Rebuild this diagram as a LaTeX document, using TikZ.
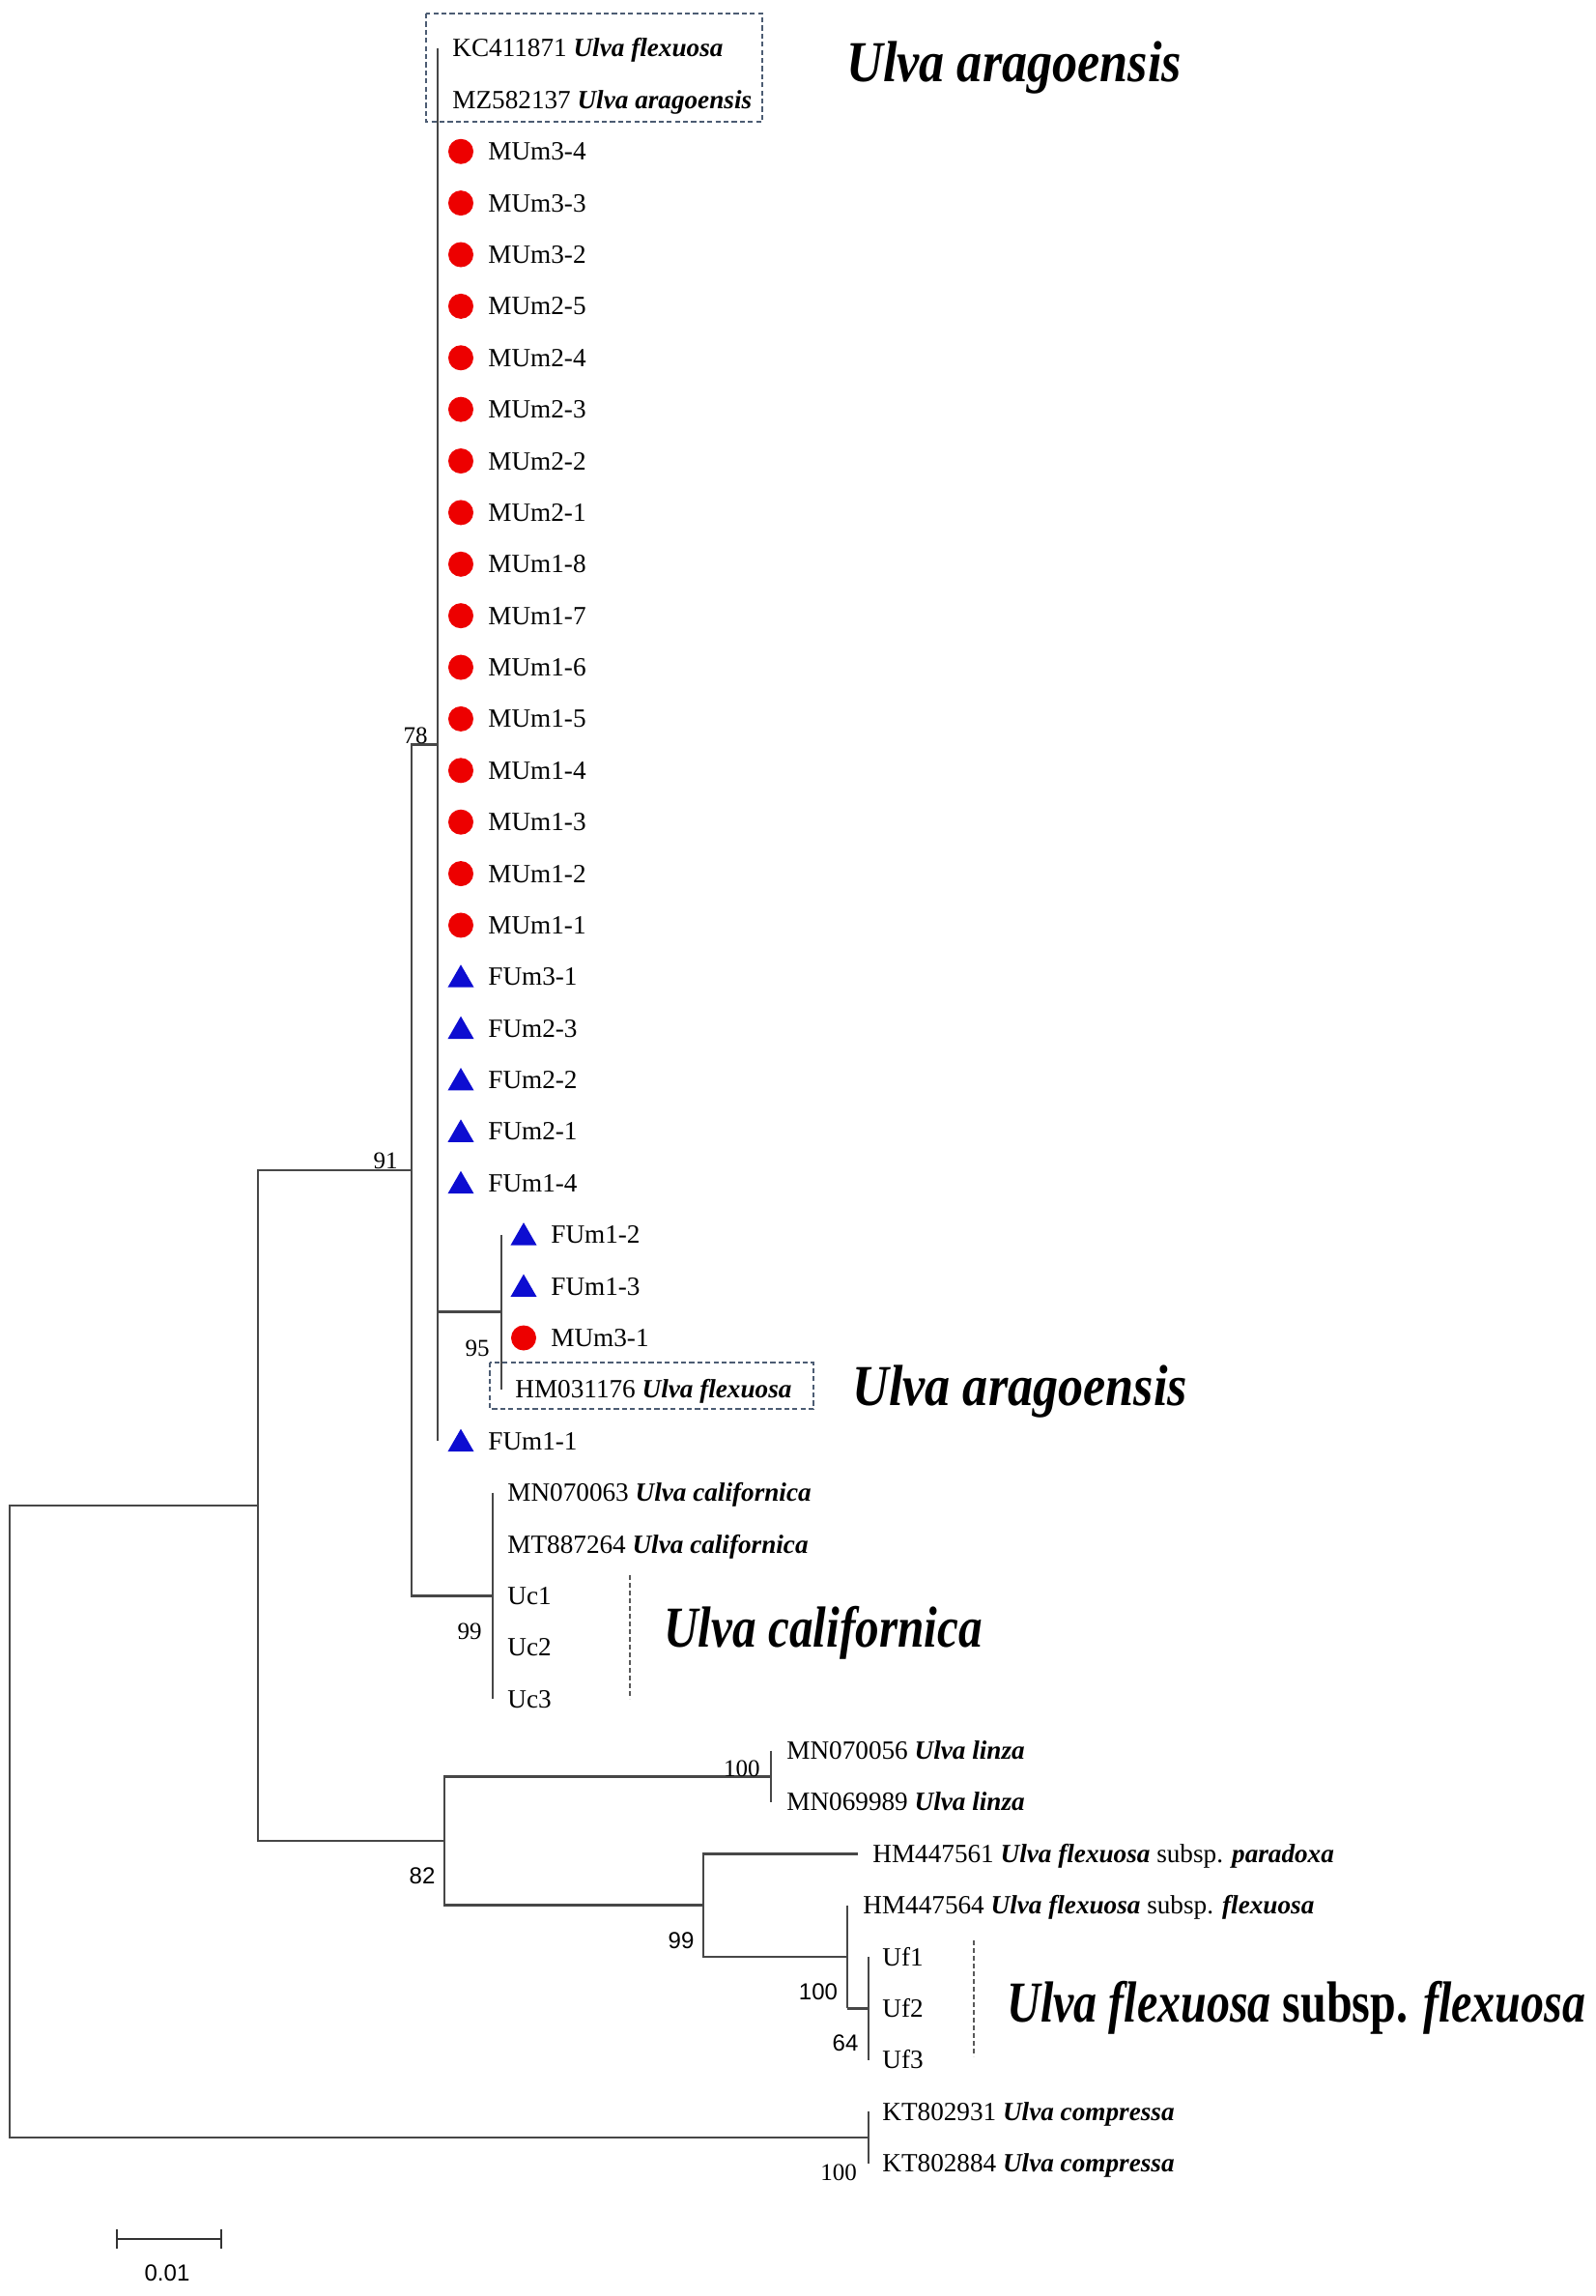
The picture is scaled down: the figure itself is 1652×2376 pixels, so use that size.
\documentclass[tikz,border=0pt]{standalone}
\usepackage{fontspec}
\setmainfont{Liberation Serif}
\newfontfamily\numsans{Liberation Sans}
\usetikzlibrary{shapes.geometric}
\definecolor{branchc}{rgb}{0.28,0.28,0.28}
\definecolor{redm}{rgb}{0.93,0.0,0.0}
\definecolor{bluem}{rgb}{0.05,0.05,0.82}
\definecolor{boxc}{rgb}{0.30,0.36,0.45}
\definecolor{dashc}{rgb}{0.35,0.35,0.35}
\newcommand{\spn}[1]{\textbf{\textit{#1}}}
\begin{document}
\begin{tikzpicture}[x=0.5pt,y=-0.5pt,
  br/.style={line width=1.4pt, draw=branchc},
  leaf/.style={font=\fontsize{13.6}{16}\selectfont, anchor=base west, inner sep=0pt, yshift=-4.5pt},
  dotR/.style={circle, fill=redm, draw=none, minimum size=13pt, inner sep=0pt},
  triB/.style={regular polygon, regular polygon sides=3, fill=bluem, draw=none, minimum size=15.6pt, inner sep=0pt, yshift=-1.5pt},
  bs/.style={font=\fontsize{12.5}{14}\selectfont, inner sep=0pt},
  bss/.style={font=\fontsize{12}{14}\selectfont\numsans, inner sep=0pt},
  big/.style={font=\fontsize{30}{33}\selectfont\bfseries\itshape, anchor=base west, inner sep=0pt},
  dboxline/.style={draw=boxc, line width=1pt, dash pattern=on 2.6pt off 1.6pt},
  dvline/.style={draw=dashc, line width=1pt, dash pattern=on 2.4pt off 1.6pt}]
\useasboundingbox (0,0) rectangle (1652,2376);
% leaf positions
\foreach \i in {1,...,42} \coordinate (p\i) at (0,{50+53.38*(\i-1)});
% internal nodes
\coordinate (Rt) at (10,1885);
\coordinate (A) at (267,1558);
\coordinate (B) at (426,1211);
\coordinate (C) at (453,770.6);
\coordinate (D) at (519,1357.8);
\coordinate (E) at (510,1651.4);
\coordinate (F) at (460,1905);
\coordinate (G) at (798,1838.2);
\coordinate (H) at (728,1971.7);
\coordinate (I) at (877,2025);
\coordinate (J) at (899,2078.4);
\coordinate (K) at (899,2211.9);
\coordinate (e36) at (888,1918.3);
% branches
\draw[br] (Rt) |- (A);
\draw[br] (Rt) |- (K);
\draw[br] (A) |- (B);
\draw[br] (A) |- (F);
\draw[br] (B) |- (C);
\draw[br] (B) |- (E);
\draw[br] (C |- p1) -- (C |- p28);
\draw[br] (C) |- (D);
\draw[br] (D |- p24) -- (D |- p27);
\draw[br] (E |- p29) -- (E |- p33);
\draw[br] (F) |- (G);
\draw[br] (F) |- (H);
\draw[br] (G |- p34) -- (G |- p35);
\draw[br] (H) |- (e36);
\draw[br] (H) |- (I);
\draw[br] (I |- p37) -- (I |- J);
\draw[br] (I |- J) -- (J);
\draw[br] (J |- p38) -- (J |- p40);
\draw[br] (K |- p41) -- (K |- p42);
% markers
\foreach \i in {3,...,18} \node[dotR] (m\i) at (477,{50+53.38*(\i-1)}) {};
\node[dotR] (m26) at (542,{50+53.38*25}) {};
\foreach \i in {19,...,23,28} \node[triB] (m\i) at (477,{50+53.38*(\i-1)}) {};
\foreach \i in {24,25} \node[triB] (m\i) at (542,{50+53.38*(\i-1)}) {};
% leaf labels
\node[leaf] (l1) at (468,{50}) {KC411871 \spn{Ulva flexuosa}};
\node[leaf] (l2) at (468,{50+53.38}) {MZ582137 \spn{Ulva aragoensis}};
\foreach \i/\t in {3/MUm3-4,4/MUm3-3,5/MUm3-2,6/MUm2-5,7/MUm2-4,8/MUm2-3,9/MUm2-2,10/MUm2-1,11/MUm1-8,12/MUm1-7,13/MUm1-6,14/MUm1-5,15/MUm1-4,16/MUm1-3,17/MUm1-2,18/MUm1-1,19/FUm3-1,20/FUm2-3,21/FUm2-2,22/FUm2-1,23/FUm1-4,28/FUm1-1}
  \node[leaf] (l\i) at (505,{50+53.38*(\i-1)}) {\t};
\foreach \i/\t in {24/FUm1-2,25/FUm1-3,26/MUm3-1}
  \node[leaf] (l\i) at (570,{50+53.38*(\i-1)}) {\t};
\node[leaf] (l27) at (533,{50+53.38*26}) {HM031176 \spn{Ulva flexuosa}};
\node[leaf] (l29) at (525,{50+53.38*28}) {MN070063 \spn{Ulva californica}};
\node[leaf] (l30) at (525,{50+53.38*29}) {MT887264 \spn{Ulva californica}};
\foreach \i/\t in {31/Uc1,32/Uc2,33/Uc3}
  \node[leaf] (l\i) at (525,{50+53.38*(\i-1)}) {\t};
\node[leaf] (l34) at (814,{50+53.38*33}) {MN070056 \spn{Ulva linza}};
\node[leaf] (l35) at (814,{50+53.38*34}) {MN069989 \spn{Ulva linza}};
\node[leaf] (l36) at (903,{50+53.38*35}) {HM447561 \spn{Ulva flexuosa} subsp. \spn{paradoxa}};
\node[leaf] (l37) at (893,{50+53.38*36}) {HM447564 \spn{Ulva flexuosa} subsp. \spn{flexuosa}};
\foreach \i/\t in {38/Uf1,39/Uf2,40/Uf3}
  \node[leaf] (l\i) at (913,{50+53.38*(\i-1)}) {\t};
\node[leaf] (l41) at (913,{50+53.38*40}) {KT802931 \spn{Ulva compressa}};
\node[leaf] (l42) at (913,{50+53.38*41}) {KT802884 \spn{Ulva compressa}};
% bootstrap values
\node[bs, anchor=base east] (b78) at (443,769) {78};
\node[bs, anchor=base east] (b91) at (412,1209) {91};
\node[bs] (b95) at (494,1395) {95};
\node[bs] (b99a) at (486,1688) {99};
\node[bs, anchor=base east] (b100a) at (787,1838) {100};
\node[bss] (b82) at (437,1941) {82};
\node[bss] (b99b) at (705,2008) {99};
\node[bss] (b100b) at (847,2061) {100};
\node[bss] (b64) at (875,2114) {64};
\node[bs] (b100c) at (868,2248) {100};
% dashed boxes and lines
\draw[dboxline] (441,14) rectangle (789,126);
\draw[dboxline] (507,1410) rectangle (842,1458);
\draw[dvline] (652,1630) -- (652,1758);
\draw[dvline] (1008,2008) -- (1008,2128);
% group labels
\node[big] (t1) at (876,85) {\scalebox{0.87}[1]{Ulva aragoensis}};
\node[big] (t2) at (882,1454) {\scalebox{0.87}[1]{Ulva aragoensis}};
\node[big] (t3) at (687,1704) {\scalebox{0.82}[1]{Ulva californica}};
\node[big] (t4) at (1042,2092) {\scalebox{0.80}[1]{Ulva flexuosa \textup{subsp.} flexuosa}};
% scale bar
\coordinate (s1) at (121,2317);
\coordinate (s2) at (229,2317);
\draw[line width=1.2pt, draw=black!80] (s1) -- (s2);
\draw[line width=1.2pt, draw=black!80] ([yshift=5pt]s1) -- ([yshift=-5pt]s1);
\draw[line width=1.2pt, draw=black!80] ([yshift=5pt]s2) -- ([yshift=-5pt]s2);
\node[bss] (sl) at (173,2352) {0.01};
\end{tikzpicture}
\end{document}
